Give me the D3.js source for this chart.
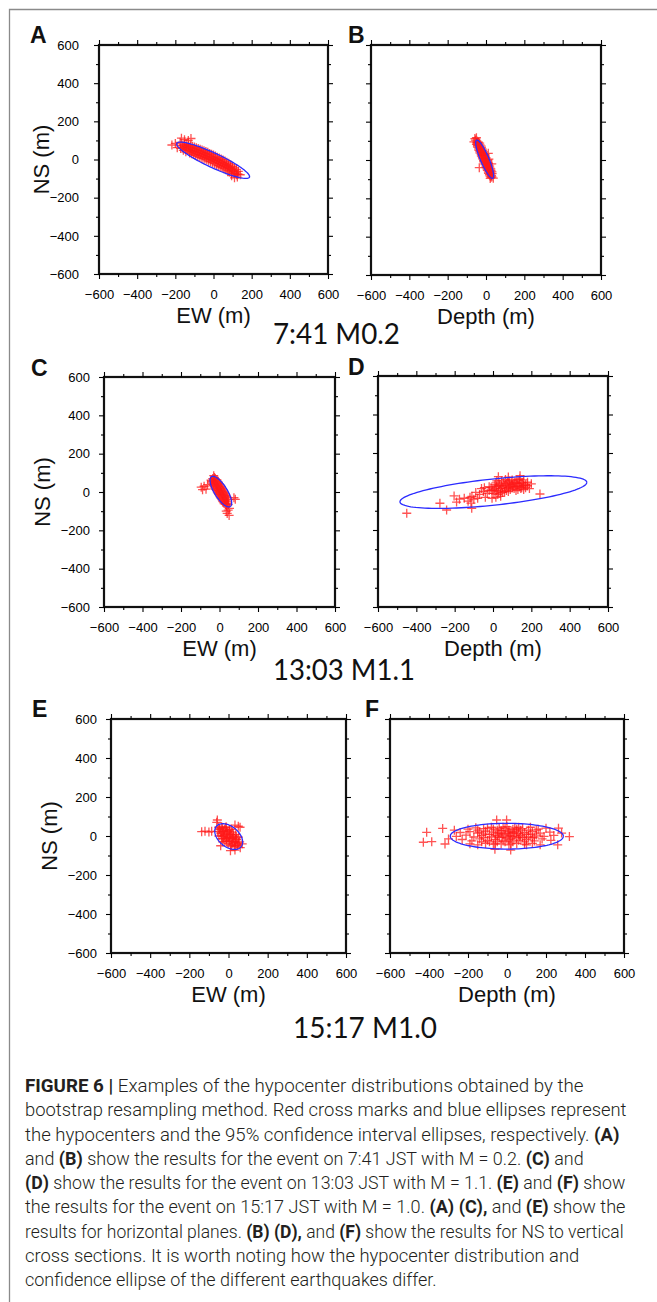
<!DOCTYPE html>
<html>
<head>
<meta charset="utf-8">
<script src="https://cdn.jsdelivr.net/npm/d3@7"></script>
<style>
	html, body { margin: 0; padding: 0; background: #fff; }
	svg { display: block; }
	text { white-space: pre; }
</style>
</head>
<body>
<svg id="fig" width="657" height="1302"></svg>
<script>
// tick values shared by every panel (metres)
var majorTicks = [-600, -400, -200, 0, 200, 400, 600];
var minorTicks = [-500, -300, -100, 100, 300, 500];

var panelLetters = ['A', 'B', 'C', 'D', 'E', 'F'];
var xTitles = ['EW (m)', 'Depth (m)', 'EW (m)', 'Depth (m)', 'EW (m)', 'Depth (m)'];
var yTitle = 'NS (m)';
var eventTitles = ['7:41 M0.2', '13:03 M1.1', '15:17 M1.0'];

// 95% confidence ellipses: [centre x, centre y, semi-major, semi-minor, angle in degrees]
var ellipses = [
	[-2, -4, 210, 38, -25],
	[-7, 4, 108, 22, -67],
	[7, 2, 92, 33, -58],
	[2, -3, 490, 68, 6],
	[1, -3, 82, 52, -40],
	[-1, -1, 290, 66, 0]
];

// bootstrap hypocenters
var pointsA = [
	[-218,76],[-200,84],[-168,112],[-152,104],[-132,100],[-118,110],[-190,62],[-175,90],
	[125,-92],[110,-96],[140,-80],[95,-85],
	[-170,72],[-172,58],
	[-150,82],[-152,68],[-148,54],
	[-130,76],[-132,62],[-128,48],
	[-110,70],[-112,56],[-108,42],[-115,30],
	[-90,62],[-92,48],[-88,34],[-95,22],
	[-70,54],[-72,40],[-68,26],[-75,14],
	[-50,46],[-52,32],[-48,18],[-55,6],
	[-30,38],[-32,24],[-28,10],[-35,-2],
	[-10,28],[-12,14],[-8,0],[-15,-12],
	[10,18],[8,4],[12,-10],[5,-22],
	[30,8],[28,-6],[32,-20],[25,-32],
	[50,-2],[48,-16],[52,-30],[45,-42],
	[70,-14],[68,-28],[72,-42],[65,-54],
	[90,-28],[88,-42],[92,-56],[85,-66],
	[110,-44],[108,-58],[112,-72],
	[130,-62],[128,-76],
	[-160,76],[-162,62],[-158,48],
	[-140,80],[-142,66],[-138,52],[-145,40],
	[-120,72],[-122,58],[-118,44],[-125,34],
	[-100,66],[-102,52],[-98,38],[-105,26],
	[-80,58],[-82,44],[-78,30],[-85,18],
	[-60,50],[-62,36],[-58,22],[-65,10],
	[-40,42],[-42,28],[-38,14],[-45,2],
	[-20,32],[-22,18],[-18,4],[-25,-8],
	[0,24],[-2,10],[2,-4],[-5,-16],
	[20,12],[18,-2],[22,-16],[15,-28],
	[40,2],[38,-12],[42,-26],[35,-38],
	[60,-8],[58,-22],[62,-36],[55,-48],
	[80,-20],[78,-34],[82,-48],[75,-60],
	[100,-36],[98,-50],[102,-64],[95,-74],
	[120,-52],[118,-66],[122,-80]
];

var pointsB = [
	[-47,99],[-55,104],
	[-41,84],[-50,82],[-33,88],
	[-34,69],[-43,66],[-25,72],
	[-28,54],[-37,51],[-19,57],
	[-22,39],[-31,36],[-13,42],
	[-15,24],[-24,21],[-6,28],
	[-9,9],[-18,6],[0,12],
	[-3,-6],[-12,-9],[6,-2],
	[4,-21],[-5,-24],[13,-17],
	[10,-36],[1,-39],[19,-32],
	[16,-51],[7,-54],[25,-47],
	[22,-66],[13,-69],[31,-62],
	[29,-81],[21,-84],
	[-44,91],[-49,89],[-39,93],
	[-38,76],[-45,73],[-31,79],
	[-31,61],[-38,58],[-24,64],
	[-25,46],[-32,43],[-18,49],
	[-18,31],[-25,28],[-11,34],
	[-12,16],[-19,13],[-5,19],
	[-6,1],[-13,-2],[1,4],
	[1,-14],[-6,-17],[8,-11],
	[7,-29],[0,-32],[14,-26],
	[13,-44],[6,-47],[20,-41],
	[19,-59],[12,-62],[26,-56],
	[25,-74],[18,-77],[32,-71],
	[31,-88],[26,-90],
	[-63,95],[-58,112],[-50,116],[12,35],[15,5],[-35,-40],[38,-95],[22,-96],[30,-20]
];

var pointsC = [
	[-35,70],[-44,62],[-26,76],
	[-27,56],[-40,48],[-14,64],
	[-19,43],[-32,35],[-6,51],
	[-11,29],[-24,21],[2,37],
	[-3,16],[-16,8],[10,24],
	[5,2],[-8,-6],[18,10],
	[13,-12],[0,-20],[26,-4],
	[21,-25],[8,-33],[34,-17],
	[29,-39],[16,-47],[42,-31],
	[37,-52],[24,-60],
	[45,-66],[36,-72],
	[-31,63],[-40,56],[-22,70],
	[-23,50],[-34,42],[-12,57],
	[-15,36],[-28,28],[-2,44],
	[-7,22],[-20,14],[6,30],
	[1,9],[-12,1],[14,17],
	[9,-5],[-4,-13],[22,3],
	[17,-18],[4,-26],[30,-10],
	[25,-32],[12,-40],[38,-24],
	[33,-46],[20,-53],[46,-40],
	[41,-59],[30,-64],
	[-95,25],[-80,30],[-70,15],[-88,12],[-62,38],[75,-30],[82,-38],
	[45,-95],[40,-112],[50,-122],[35,-100],[-30,85],[52,-85]
];

var pointsD = [
	[0,10],[20,25],[40,15],[60,30],[80,20],[100,35],[120,25],[140,40],[160,30],
	[30,0],[50,-5],[70,5],[90,10],[110,15],[130,10],[150,20],
	[10,35],[35,40],[55,45],[75,50],[95,45],[115,50],[135,55],
	[-10,20],[-20,5],[5,-10],[25,-15],[45,30],[65,15],[85,38],[105,28],[125,42],[145,15],
	[170,35],[180,48],[160,60],[140,65],[100,60],[65,62],[20,55],
	[10,15],[30,30],[50,20],[70,40],[90,25],[110,45],[130,30],[150,45],[170,20],
	[20,5],[40,-8],[60,0],[80,0],[100,20],[120,5],[140,25],[160,10],[180,30],
	[-5,5],[15,45],[45,55],[85,55],[125,60],[155,45],
	[-30,-10],[-50,0],[-70,-15],[-90,-5],[-110,-25],[-60,15],[-40,-30],[-80,-35],
	[-100,-40],[-120,-30],[-130,-50],[-115,-60],[-150,-35],[-20,25],[-45,20],
	[-5,-35],[15,-30],[40,-25],
	[190,15],[200,40],[245,-13],[141,82],[28,77],[80,75],
	[-450,-113],[-277,-61],[-242,-96],[-203,-23],[-111,-87],[-175,-40],[-190,-55]
];

var pointsE = [
	[-45,35],[-30,40],[-40,20],[-25,22],[-10,28],[5,25],
	[-35,0],[-20,5],[-5,10],[10,8],[25,5],
	[-25,-15],[-10,-10],[5,-8],[20,-12],[35,-15],
	[-10,-28],[5,-25],[20,-30],[35,-32],[50,-35],
	[15,-45],[30,-50],[45,-48],[-50,45],[-15,45],[15,35],[40,-5],[-30,-30],
	[-55,24],[-45,36],[-35,47],
	[-49,0],[-39,12],[-30,23],[-20,34],[-11,46],
	[-34,-13],[-24,-2],[-14,10],[-5,21],[5,33],
	[-18,-26],[-9,-14],[1,-3],[11,8],[20,20],
	[-2,-39],[7,-27],[16,-16],[26,-4],[36,7],
	[12,-52],[22,-40],[32,-29],[41,-17],[51,-6],
	[37,-53],[47,-42],[57,-30],
	[-137,22],[-120,25],[-100,20],[-86,24],[-57,82],[-60,70],[33,56],[50,50],[59,45],
	[33,-72],[60,-60],[70,-40],[-40,-50],[10,-75]
];

var pointsF = [
	[-200,35],[-160,42],[-120,38],[-80,45],[-40,40],[0,48],[40,42],[80,38],[120,45],[160,35],[200,40],
	[-240,18],[-190,22],[-150,15],[-110,25],[-70,20],[-30,28],[10,22],[50,25],[90,18],[130,22],[170,15],[220,20],
	[-260,-2],[-210,5],[-170,-5],[-130,2],[-90,8],[-50,0],[-10,5],[30,-3],[70,3],[110,-5],[150,5],[190,-2],[240,3],
	[-230,-18],[-180,-25],[-140,-15],[-100,-22],[-60,-18],[-20,-25],[20,-15],[60,-22],[100,-18],[140,-25],[180,-15],[225,-22],
	[-190,-40],[-150,-45],[-110,-38],[-70,-42],[-30,-40],[10,-45],[50,-38],[90,-42],[130,-38],[170,-45],
	[-20,10],[0,-10],[20,15],[40,5],[-40,-8],[60,12],[80,-8],[-60,5],[100,8],[-80,-5],
	[10,30],[-10,-30],[30,-30],[50,35],[-50,30],[120,10],[-120,-8],
	[-150,30],[-130,-30],[-110,10],[-90,-30],[-70,35],[-50,-30],[-30,15],[-10,38],[10,-20],
	[30,35],[50,-10],[70,30],[90,-30],[110,30],[130,-10],[150,30],[-140,20],[-100,40],
	[-60,-40],[-20,45],[20,-40],[60,45],[100,-45],[140,-5],[-25,-5],[5,15],[35,18],[65,-5],[-45,15],[15,0],
	[-412,19],[-429,-32],[-386,-29],[-330,39],[-300,-15],[-318,-41],[320,-3],[264,40],[260,-45],
	[-53,82],[-2,82],[-62,-68],[19,-72],[-270,30],[280,15]
];

var captionLines = [
	[['FIGURE 6 |', 1], [' Examples of the hypocenter distributions obtained by the', 0]],
	[['bootstrap resampling method. Red cross marks and blue ellipses represent', 0]],
	[['the hypocenters and the 95% confidence interval ellipses, respectively. ', 0], ['(A)', 1]],
	[['and ', 0], ['(B)', 1], [' show the results for the event on 7:41 JST with M = 0.2. ', 0], ['(C)', 1], [' and', 0]],
	[['(D)', 1], [' show the results for the event on 13:03 JST with M = 1.1. ', 0], ['(E)', 1], [' and ', 0], ['(F)', 1], [' show', 0]],
	[['the results for the event on 15:17 JST with M = 1.0. ', 0], ['(A) (C),', 1], [' and ', 0], ['(E)', 1], [' show the', 0]],
	[['results for horizontal planes. ', 0], ['(B) (D),', 1], [' and ', 0], ['(F)', 1], [' show the results for NS to vertical', 0]],
	[['cross sections. It is worth noting how the hypocenter distribution and', 0]],
	[['confidence ellipse of the different earthquakes differ.', 0]]
];

// ---- layout (pixels) ----
var frames = [
	{ x: 99,  y: 45,  w: 229, h: 229, yGap: 20, yTitleX: 48.5 },
	{ x: 371, y: 45,  w: 230, h: 230 },
	{ x: 104, y: 377, w: 231, h: 230, yGap: 14, yTitleX: 50 },
	{ x: 378, y: 376, w: 230, h: 231 },
	{ x: 111, y: 719, w: 235, h: 234, yGap: 14, yTitleX: 56.5 },
	{ x: 390, y: 719, w: 234, h: 234 }
];
var letterPos = [[30, 43], [348, 43], [31, 376], [348, 375], [32, 717], [365, 717]];
var eventTitlePos = [[273, 344, 127], [273, 680, 142], [293, 1038, 144]];
var captionX = 25, captionY0 = 1092, captionStep = 24.25;
var captionEnds = [584, 627, 620, 584, 626, 626, 624, 580, 437];

var sansFont = '"Liberation Sans", Arial, Helvetica, sans-serif';
var svg = d3.select('#fig');

svg.append('rect').attr('width', 657).attr('height', 1302).attr('fill', '#fff');

// grey outer box of the figure
svg.append('path')
	.attr('d', 'M9.5,1302V9.5H657')
	.attr('fill', 'none')
	.attr('stroke', '#8a8a8a')
	.attr('stroke-width', 1.3);

var panelPoints = [pointsA, pointsB, pointsC, pointsD, pointsE, pointsF];

panelPoints.forEach(function (points, i) {
	drawPanel(i, points);
});

function fitText (sel, x, y, width) {
	var len = sel.node().getComputedTextLength();
	var k = len > 0 ? width / len : 1;
	sel.attr('transform', 'translate(' + x + ',' + y + ') scale(' + k + ',1)');
}

function styleAxis (g, hideLabels) {
	g.select('.domain').remove();
	g.selectAll('.tick line').attr('stroke', '#000').attr('stroke-width', 1.1);
	g.selectAll('.tick text')
		.attr('fill', '#000')
		.attr('font-family', sansFont)
		.attr('font-size', 13);
	if (hideLabels) {
		g.selectAll('.tick text').remove();
	}
}

function addTicks (g, axisFn, scale, transform, labelled, padding) {
	g.append('g')
		.attr('transform', transform)
		.call(axisFn(scale).tickValues(minorTicks).tickSize(3).tickSizeOuter(0))
		.call(styleAxis, true);

	g.append('g')
		.attr('transform', transform)
		.call(axisFn(scale).tickValues(majorTicks).tickSize(5).tickSizeOuter(0)
			.tickPadding(padding || 3).tickFormat(d3.format('d')))
		.call(styleAxis, !labelled);
}

function ellipsePath (e, x, y) {
	var cx = e[0], cy = e[1], a = e[2], b = e[3];
	var th = e[4] * Math.PI / 180;
	var pts = d3.range(0, 361, 3).map(function (deg) {
		var t = deg * Math.PI / 180;
		return [
			cx + a * Math.cos(t) * Math.cos(th) - b * Math.sin(t) * Math.sin(th),
			cy + a * Math.cos(t) * Math.sin(th) + b * Math.sin(t) * Math.cos(th)
		];
	});
	return d3.line()
		.x(function (p) { return x(p[0]); })
		.y(function (p) { return y(p[1]); })(pts);
}

function drawPanel (i, points) {
	var f = frames[i];
	var leftColumn = (i % 2 === 0);
	var x = d3.scaleLinear().domain([-600, 600]).range([f.x, f.x + f.w]);
	var y = d3.scaleLinear().domain([-600, 600]).range([f.y + f.h, f.y]);
	var g = svg.append('g').attr('class', 'panel');

	g.append('rect')
		.attr('x', f.x)
		.attr('y', f.y)
		.attr('width', f.w)
		.attr('height', f.h)
		.attr('fill', '#fff');

	// red crosses
	g.append('g')
		.selectAll('path')
		.data(points)
		.join('path')
		.attr('d', function (d) {
			var px = x(d[0]), py = y(d[1]);
			return 'M' + (px - 4.5) + ',' + py + 'h9M' + px + ',' + (py - 4.5) + 'v9';
		})
		.attr('fill', 'none')
		.attr('stroke', '#ff1a1a')
		.attr('stroke-opacity', 0.75)
		.attr('stroke-width', 1.3);

	// blue confidence ellipse
	g.append('path')
		.attr('d', ellipsePath(ellipses[i], x, y))
		.attr('fill', 'none')
		.attr('stroke', '#2b2bff')
		.attr('stroke-width', 1.3);

	// frame
	g.append('rect')
		.attr('x', f.x)
		.attr('y', f.y)
		.attr('width', f.w)
		.attr('height', f.h)
		.attr('fill', 'none')
		.attr('stroke', '#111')
		.attr('stroke-width', 2.2);

	// ticks on all four sides, labels on left (left column) and bottom
	addTicks(g, d3.axisBottom, x, 'translate(0,' + (f.y + f.h) + ')', true, 10.3);
	addTicks(g, d3.axisTop, x, 'translate(0,' + f.y + ')', false);
	addTicks(g, d3.axisLeft, y, 'translate(' + f.x + ',0)', leftColumn, leftColumn ? f.yGap - 5 : 3);
	addTicks(g, d3.axisRight, y, 'translate(' + (f.x + f.w) + ',0)', false);

	// axis titles
	g.append('text')
		.attr('x', f.x + f.w / 2)
		.attr('y', f.y + f.h + 49)
		.attr('text-anchor', 'middle')
		.attr('font-family', sansFont)
		.attr('font-size', 22)
		.attr('fill', '#111')
		.text(xTitles[i]);

	if (leftColumn) {
		g.append('text')
			.attr('transform', 'translate(' + f.yTitleX + ',' + (f.y + f.h / 2) + ') rotate(-90)')
			.attr('text-anchor', 'middle')
			.attr('font-family', sansFont)
			.attr('font-size', 22)
			.attr('fill', '#111')
			.text(yTitle);
	}

	// panel letter
	g.append('text')
		.attr('x', letterPos[i][0])
		.attr('y', letterPos[i][1])
		.attr('font-family', sansFont)
		.attr('font-weight', 'bold')
		.attr('font-size', 23)
		.attr('fill', '#111')
		.text(panelLetters[i]);
}

// event titles under each row
eventTitles.forEach(function (t, i) {
	var p = eventTitlePos[i];
	var txt = svg.append('text')
		.attr('font-family', 'Lato, "Open Sans", sans-serif')
		.attr('font-size', 28)
		.attr('fill', '#111')
		.text(t);
	fitText(txt, p[0], p[1], p[2]);
});

// caption
captionLines.forEach(function (segments, i) {
	var txt = svg.append('text')
		.attr('font-family', 'Roboto, "Liberation Sans", sans-serif')
		.attr('font-size', 17.5)
		.attr('fill', '#231f20');
	segments.forEach(function (s) {
		txt.append('tspan')
			.attr('font-weight', s[1] ? 700 : 300)
			.text(s[0]);
	});
	fitText(txt, captionX, captionY0 + i * captionStep, captionEnds[i] - captionX);
});
</script>
</body>
</html>
